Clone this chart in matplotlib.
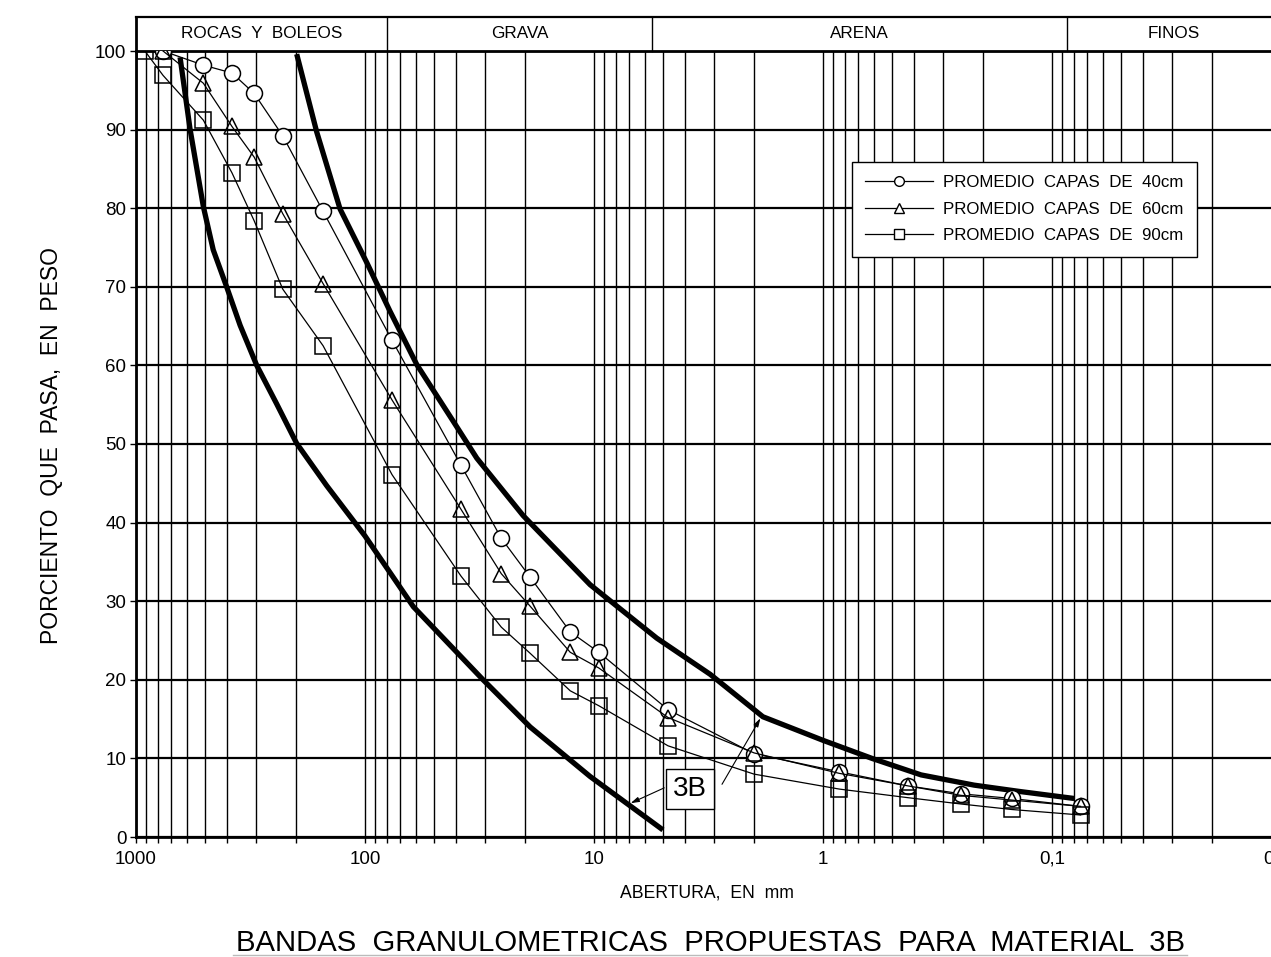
import matplotlib
matplotlib.use('Agg')
import matplotlib.pyplot as plt
import numpy as np
from matplotlib.lines import Line2D
from matplotlib.ticker import FixedLocator, NullFormatter

plt.rcParams['font.family'] = ['Liberation Sans', 'DejaVu Sans']

# aberturas de tamiz en mm (36" ... No.200)
sieves = [914.4, 762, 508, 381, 304.8, 228.6, 152.4, 76.2, 38.1, 25.4, 19.05,
          12.7, 9.525, 4.75, 2.0, 0.85, 0.425, 0.25, 0.15, 0.075]
# porcentaje que pasa
p40 = [100, 98.2, 97.2, 94.6, 89.2, 79.6, 63.2, 47.3, 38.0, 33.1, 26.1, 23.5,
       16.2, 10.6, 8.3, 6.5, 5.5, 4.9, 3.9]
p60 = [100, 95.9, 90.4, 86.5, 79.3, 70.4, 55.6, 41.7, 33.5, 29.4, 23.5, 21.5,
       15.2, 10.7, 8.1, 6.5, 5.3, 4.7, 3.9]
p90 = [100, 96.9, 91.2, 84.5, 78.4, 69.7, 62.5, 46.1, 33.2, 26.7, 23.4, 18.6,
       16.7, 11.6, 8.0, 6.1, 5.0, 4.2, 3.5, 2.8]
labels = ['PROMEDIO  CAPAS  DE  40cm', 'PROMEDIO  CAPAS  DE  60cm',
          'PROMEDIO  CAPAS  DE  90cm']

# banda 3B (limites)
coarse_size = [642, 581, 508, 460, 402, 351, 297, 243, 199, 147, 100, 61.5,
               30.5, 19.0, 10.4, 5.0]
coarse_pct = [99.2, 90.1, 80.2, 74.7, 70.0, 65.1, 60.0, 55.1, 50.1, 44.7, 38.3,
              29.3, 20.0, 14.0, 7.7, 0.9]
fine_size = [198.7, 162.5, 128.5, 98.3, 77.8, 59.4, 41.2, 32.5, 20.4, 10.4, 5.32,
             3.11, 1.83, 1.0, 0.611, 0.373, 0.219, 0.139, 0.080]
fine_pct = [99.6, 89.7, 79.9, 73.1, 66.9, 60.1, 52.9, 48.2, 40.9, 32.1, 25.3,
            20.7, 15.3, 12.3, 10.0, 7.9, 6.6, 5.8, 4.9]

# clasificacion
zones = ['ROCAS  Y  BOLEOS', 'GRAVA', 'ARENA', 'FINOS']
zone_edges = [1000, 80, 5.6, 0.086, 0.01]

xticks = [1000, 100, 10, 1, 0.1, 0.01]
xticklabels = ['1000', '100', '10', '1', '0,1', '0,01']

fig = plt.figure(figsize=(12.71, 9.57), dpi=100)
ax = fig.add_axes([136/1271, 120/957, 1145/1271, 786/957])
ax.set_xscale('log')
ax.set_xlim(1000, 0.01)
ax.set_ylim(0, 100)

ax.xaxis.set_major_locator(FixedLocator(xticks))
ax.set_xticklabels(xticklabels)
minors = [m * 10.0**k for k in range(-2, 3) for m in range(2, 10)]
ax.xaxis.set_minor_locator(FixedLocator(minors))
ax.xaxis.set_minor_formatter(NullFormatter())
ax.set_yticks(range(0, 101, 10))
ax.tick_params(axis='both', which='both', direction='out', length=4, width=1,
               labelsize=13.5, colors='black')
ax.tick_params(axis='x', pad=6)
ax.tick_params(axis='y', pad=3)
ax.grid(axis='y', which='major', color='black', lw=1.6)
ax.grid(axis='x', which='both', color='black', lw=1.0)
ax.set_axisbelow(True)
for s in ['left', 'bottom', 'top']:
    ax.spines[s].set_linewidth(2.0)
ax.spines['right'].set_visible(False)

# encabezado
hh = 1 + 34/786
trans = ax.get_xaxis_transform()
ax.plot([0, 1], [hh, hh], color='black', lw=1.6, transform=ax.transAxes, clip_on=False)
ax.plot([0, 0], [1, hh], color='black', lw=2.0, transform=ax.transAxes, clip_on=False)
for e in zone_edges[1:-1]:
    ax.plot([e, e], [1, hh], color='black', lw=1.0, transform=trans, clip_on=False)
for i, z in enumerate(zones):
    xc = np.sqrt(zone_edges[i] * zone_edges[i+1])
    ax.text(xc, (1 + hh) / 2, z, transform=trans, ha='center', va='center',
            fontsize=12.3)

# bandas
ax.plot(coarse_size, coarse_pct, color='black', lw=3.8, solid_capstyle='butt',
        solid_joinstyle='round', zorder=3)
ax.plot(fine_size, fine_pct, color='black', lw=3.8, solid_capstyle='butt',
        solid_joinstyle='round', zorder=3)

# curvas promedio
ax.plot(sieves[1:], p40, color='black', lw=0.9, marker='o', ms=11.5, mfc='white',
        mec='black', mew=1.1, zorder=4)
ax.plot(sieves[1:], p60, color='black', lw=0.9, marker='^', ms=11, mfc='none',
        mec='black', mew=1.1, zorder=4)
ax.plot(sieves, p90, color='black', lw=0.9, marker='s', ms=11, mfc='none',
        mec='black', mew=1.1, zorder=4)

handles = [Line2D([], [], color='black', lw=0.9, marker=m, ms=7, mfc='white',
                  mec='black', mew=1.0) for m in ['o', '^', 's']]
leg = ax.legend(handles, labels, loc='upper left', bbox_to_anchor=(0.625, 0.859),
                borderaxespad=0, fancybox=False, framealpha=1, edgecolor='black',
                handlelength=4.0, handletextpad=0.6, labelspacing=0.68,
                borderpad=0.8, fontsize=12.2)
leg.get_frame().set_linewidth(1.0)
leg.set_zorder(6)

# etiqueta 3B
box_x, box_y = 3.81, 6.1
ax.text(box_x, box_y, '3B', ha='center', va='center', fontsize=20,
        zorder=7, bbox=dict(boxstyle='square,pad=0.25', fc='white', ec='black', lw=1.0))
tip_l = 7.1
tip_r = 1.85
yl = np.interp(np.log10(tip_l), np.log10(coarse_size[::-1]), coarse_pct[::-1])
yr = np.interp(np.log10(tip_r), np.log10(fine_size[::-1]), fine_pct[::-1])
ax.annotate('', xy=(tip_l, yl), xytext=(4.81, 6.4), zorder=7,
            arrowprops=dict(arrowstyle='-|>,head_length=0.5,head_width=0.15', lw=0.8, color='black'))
ax.annotate('', xy=(tip_r, yr), xytext=(2.80, 6.4), zorder=7,
            arrowprops=dict(arrowstyle='-|>,head_length=0.5,head_width=0.15', lw=0.8, color='black'))

fig.text(52/1271, 1 - 446/957, 'PORCIENTO  QUE  PASA,  EN  PESO', rotation=90,
         ha='center', va='center', fontsize=16.5)
fig.text(707/1271, 1 - 893/957, 'ABERTURA,  EN  mm', ha='center', va='center',
         fontsize=12.7)
fig.text(710/1271, 1 - 943/957, 'BANDAS  GRANULOMETRICAS  PROPUESTAS  PARA  MATERIAL  3B',
         ha='center', va='center', fontsize=21.1)
fig.add_artist(Line2D([233/1271, 1187/1271], [1 - 955/957, 1 - 955/957],
                      color='#bbbbbb', lw=1.0))

fig.savefig('out.png', dpi=100, facecolor='white')
